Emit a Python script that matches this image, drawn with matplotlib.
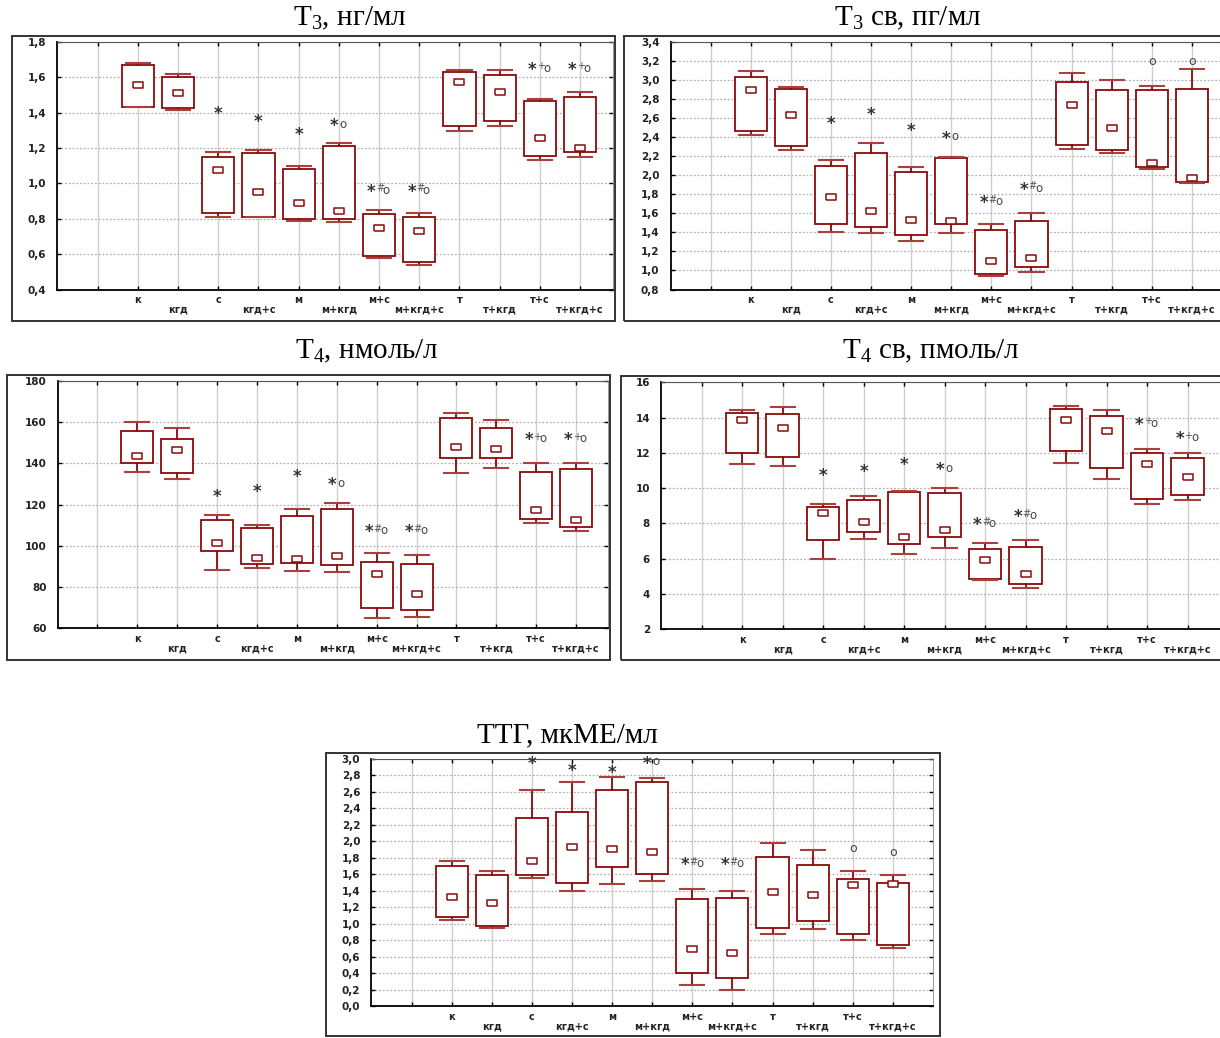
import numpy as np
import matplotlib
matplotlib.use("Agg")
import matplotlib.pyplot as plt
from matplotlib.patches import Rectangle

plt.rcParams['mathtext.fontset'] = 'custom'
plt.rcParams['mathtext.rm'] = 'Liberation Serif'
plt.rcParams['mathtext.it'] = 'Liberation Serif:italic'

# группы
cats = ['к', 'кгд', 'с', 'кгд+с', 'м', 'м+кгд', 'м+с', 'м+кгд+с',
        'т', 'т+кгд', 'т+с', 'т+кгд+с']

# T3, нг/мл  (max, Q3, медиана, Q1, min)
t3_hi  = [1.68, 1.62, 1.175, 1.19, 1.10, 1.23, 0.85, 0.83, 1.64, 1.64, 1.48, 1.52]
t3_q3  = [1.67, 1.60, 1.148, 1.17, 1.08, 1.21, 0.825, 0.81, 1.63, 1.615, 1.467, 1.49]
t3_med = [1.555, 1.51, 1.074, 0.952, 0.887, 0.844, 0.748, 0.731, 1.575, 1.517, 1.256, 1.203]
t3_q1  = [1.435, 1.426, 0.831, 0.812, 0.797, 0.80, 0.591, 0.553, 1.324, 1.352, 1.156, 1.177]
t3_lo  = [1.43, 1.416, 0.808, 0.808, 0.785, 0.782, 0.578, 0.536, 1.296, 1.324, 1.135, 1.152]
t3_mark = ['', '', '*', '*', '*', '*o', '*#o', '*#o', '', '', '*+o', '*+o']
t3_mark_y = [None, None, 1.40, 1.356, 1.28, 1.33, 0.96, 0.96, None, None, 1.65, 1.65]

# T3 св, пг/мл
ft3_hi  = [3.095, 2.923, 2.158, 2.344, 2.084, 2.193, 1.484, 1.60, 3.074, 3.0, 2.933, 3.116]
ft3_q3  = [3.028, 2.902, 2.102, 2.239, 2.039, 2.179, 1.421, 1.516, 2.975, 2.895, 2.895, 2.905]
ft3_med = [2.891, 2.632, 1.768, 1.621, 1.533, 1.516, 1.098, 1.126, 2.737, 2.498, 2.126, 1.968]
ft3_q1  = [2.463, 2.305, 1.488, 1.46, 1.368, 1.488, 0.968, 1.032, 2.319, 2.263, 2.084, 1.926]
ft3_lo  = [2.421, 2.263, 1.40, 1.393, 1.305, 1.393, 0.937, 0.979, 2.274, 2.239, 2.063, 1.916]
ft3_mark = ['', '', '*', '*', '*', '*o', '*#o', '*#o', '', '', 'o', 'o']
ft3_mark_y = [None, None, 2.55, 2.65, 2.48, 2.40, 1.72, 1.86, None, None, 3.19, 3.19]

# T4, нмоль/л
t4_hi  = [159.9, 157.4, 115.1, 110.1, 118.1, 121.0, 96.4, 95.7, 164.5, 161.1, 140.4, 140.4]
t4_q3  = [155.9, 152.0, 112.6, 108.8, 114.7, 117.9, 92.3, 91.4, 161.9, 157.4, 135.7, 137.1]
t4_med = [143.8, 146.5, 101.6, 94.1, 93.5, 94.9, 86.5, 76.8, 148.0, 147.2, 117.4, 112.6]
t4_q1  = [140.4, 135.2, 97.7, 91.0, 91.5, 90.6, 69.9, 68.7, 142.5, 142.8, 113.0, 109.2]
t4_lo  = [135.8, 132.3, 88.3, 89.3, 88.0, 87.2, 64.8, 65.5, 135.2, 137.8, 110.9, 107.1]
t4_mark = ['', '', '*', '*', '*', '*o', '*#o', '*#o', '', '', '*+o', '*+o']
t4_mark_y = [None, None, 124.5, 126.8, 133.9, 130.0, 107.2, 107.2, None, None, 151.9, 151.9]

# T4 св, пмоль/л
ft4_hi  = [14.45, 14.60, 9.12, 9.56, 9.86, 10.01, 6.87, 7.06, 14.68, 14.41, 12.24, 11.98]
ft4_q3  = [14.24, 14.22, 8.95, 9.35, 9.77, 9.73, 6.53, 6.69, 14.49, 14.09, 12.01, 11.69]
ft4_med = [13.87, 13.39, 8.61, 8.06, 7.21, 7.63, 5.95, 5.12, 13.85, 13.26, 11.35, 10.65]
ft4_q1  = [12.01, 11.75, 7.04, 7.50, 6.86, 7.21, 4.85, 4.55, 12.09, 11.13, 9.37, 9.63]
ft4_lo  = [11.37, 11.28, 6.01, 7.14, 6.25, 6.63, 4.78, 4.32, 11.41, 10.54, 9.10, 9.33]
ft4_mark = ['', '', '*', '*', '*', '*o', '*#o', '*#o', '', '', '*+o', '*+o']
ft4_mark_y = [None, None, 10.79, 11.01, 11.41, 11.11, 7.97, 8.44, None, None, 13.66, 12.86]

# ТТГ, мкМЕ/мл
tsh_hi  = [1.767, 1.645, 2.628, 2.717, 2.786, 2.774, 1.423, 1.399, 1.981, 1.90, 1.641, 1.593]
tsh_q3  = [1.706, 1.593, 2.288, 2.361, 2.628, 2.717, 1.306, 1.318, 1.815, 1.718, 1.544, 1.50]
tsh_med = [1.322, 1.249, 1.767, 1.928, 1.904, 1.868, 0.699, 0.647, 1.391, 1.354, 1.467, 1.480]
tsh_q1  = [1.079, 0.970, 1.593, 1.50, 1.686, 1.601, 0.40, 0.339, 0.954, 1.031, 0.873, 0.748]
tsh_lo  = [1.051, 0.950, 1.552, 1.399, 1.480, 1.520, 0.254, 0.202, 0.873, 0.934, 0.808, 0.707]
tsh_mark = ['', '', '*', '*', '*', '*o', '*#o', '*#o', '', '', 'o', 'o']
tsh_mark_y = [None, None, 2.96, 2.87, 2.85, 2.96, 1.73, 1.73, None, None, 1.92, 1.86]

W, H = 1220, 1038
RED = '#8b0a0a'
fig = plt.figure(figsize=(W / 100, H / 100), dpi=100)

med_marker = [(-1, -0.55), (1, -0.55), (1, 0.55), (-1, 0.55), (-1, -0.55)]


def fmt(v, dec):
    return f"{v:.{dec}f}".replace('.', ',')


def draw_panel(box, frame, title, tpos, xmax, hi, q3, med, q1, lo,
               marks, mark_y, ylim, ystep, dec):
    l, t, r, b = box
    ax = fig.add_axes([l / W, 1 - b / H, (r - l) / W, (b - t) / H])
    fl, ft, fr, fb = frame
    fig.add_artist(Rectangle((fl / W, 1 - fb / H), (fr - fl) / W, (fb - ft) / H,
                             transform=fig.transFigure, fill=False,
                             edgecolor='#333333', lw=1.4, zorder=0))
    fig.text(tpos[0] / W, 1 - tpos[1] / H, title, ha='center', va='baseline',
             fontsize=21, family='Liberation Serif')

    pos = np.arange(2, 14)
    stats = [dict(med=m, q1=a, q3=c, whislo=lw_, whishi=h, fliers=[])
             for h, c, m, a, lw_ in zip(hi, q3, med, q1, lo)]
    ax.bxp(stats, positions=pos, widths=0.8, capwidths=0.6, showfliers=False,
           patch_artist=True,
           boxprops=dict(facecolor='white', edgecolor=RED, lw=1.3),
           whiskerprops=dict(color=RED, lw=1.3),
           capprops=dict(color='#a8403e', lw=1.5),
           medianprops=dict(visible=False), manage_ticks=False, zorder=3)
    ax.plot(pos, med, ls='none', marker=med_marker, ms=7, mfc='white',
            mec=RED, mew=1.1, zorder=4)

    # значимость
    for x, m, y in zip(pos, marks, mark_y):
        if not m:
            continue
        if m == 'o':
            ax.annotate('o', (x, y), xytext=(0, 0), textcoords='offset points',
                        ha='center', va='center', fontsize=9, color='#444444')
            continue
        sup = m[1:]
        sx = {0: 0, 1: -3.5, 2: -5.5}[len(sup)]
        ax.annotate('*', (x, y), xytext=(sx, -4.6), textcoords='offset points',
                    ha='center', va='baseline', fontsize=12, fontweight='bold',
                    color='#333333')
        if len(sup) == 2:
            ax.annotate(sup[0], (x, y), xytext=(-2.2, -0.6), textcoords='offset points',
                        ha='left', va='baseline', fontsize=7, color='#555555')
            ax.annotate('o', (x, y), xytext=(2.6, -2.3), textcoords='offset points',
                        ha='left', va='baseline', fontsize=8.5, color='#444444')
        elif len(sup) == 1:
            ax.annotate('o', (x, y), xytext=(0.2, -2.3), textcoords='offset points',
                        ha='left', va='baseline', fontsize=8.5, color='#444444')

    ax.set_xlim(0, xmax)
    ax.set_ylim(*ylim)
    yt = np.arange(ylim[0], ylim[1] + ystep / 2, ystep)
    ax.set_yticks(yt)
    ax.set_yticklabels([fmt(v, dec) for v in yt], fontsize=7.5,
                       fontweight='bold', color='#222222')
    ax.set_xticks(np.arange(1, 14))
    labels = [''] + [c if i % 2 == 0 else '\n' + c for i, c in enumerate(cats)]
    ax.set_xticklabels(labels, fontsize=7, fontweight='bold', color='#222222')
    for lbl in ax.get_xticklabels():
        lbl.set_linespacing(0.9)
    ax.tick_params(axis='both', direction='in', length=3, width=1,
                   top=True, right=True, color='black')
    ax.tick_params(axis='x', pad=4)
    ax.tick_params(axis='y', pad=8)

    ax.set_axisbelow(True)
    ax.grid(axis='x', color='#cfcfcf', lw=1.0, ls='-')
    ax.grid(axis='y', color='#b0b0b0', lw=0.9, ls=(0, (1.5, 1.5)))
    for s in ['left', 'bottom']:
        ax.spines[s].set_linewidth(1.3)
        ax.spines[s].set_color('black')
    ax.spines['top'].set_color('#555555')
    ax.spines['right'].set_color('#888888')
    ax.spines['right'].set_linewidth(0.6)
    return ax


draw_panel((57.5, 42, 613, 289.5), (12, 36, 615, 321), 'T$_3$, нг/мл', (350, 25),
           13.82, t3_hi, t3_q3, t3_med, t3_q1, t3_lo, t3_mark, t3_mark_y,
           (0.4, 1.8), 0.2, 1)
draw_panel((670.6, 42, 1232, 289.5), (624, 36, 1226, 321), 'T$_3$ св, пг/мл', (908, 25),
           14, ft3_hi, ft3_q3, ft3_med, ft3_q1, ft3_lo, ft3_mark, ft3_mark_y,
           (0.8, 3.4), 0.2, 1)
draw_panel((57.6, 381, 608, 628.3), (7, 375, 610, 660), 'T$_4$, нмоль/л', (367, 358),
           13.8, t4_hi, t4_q3, t4_med, t4_q1, t4_lo, t4_mark, t4_mark_y,
           (60, 180), 20, 0)
draw_panel((661.2, 382.3, 1228, 629.3), (621, 376, 1226, 660), 'T$_4$ св, пмоль/л', (931, 358),
           14, ft4_hi, ft4_q3, ft4_med, ft4_q1, ft4_lo, ft4_mark, ft4_mark_y,
           (2, 16), 2, 0)
draw_panel((371.4, 759, 933, 1006.3), (326, 753, 940, 1036), 'ТТГ, мкМЕ/мл', (567, 742),
           14, tsh_hi, tsh_q3, tsh_med, tsh_q1, tsh_lo, tsh_mark, tsh_mark_y,
           (0.0, 3.0), 0.2, 1)

fig.savefig('out.png', dpi=100)
